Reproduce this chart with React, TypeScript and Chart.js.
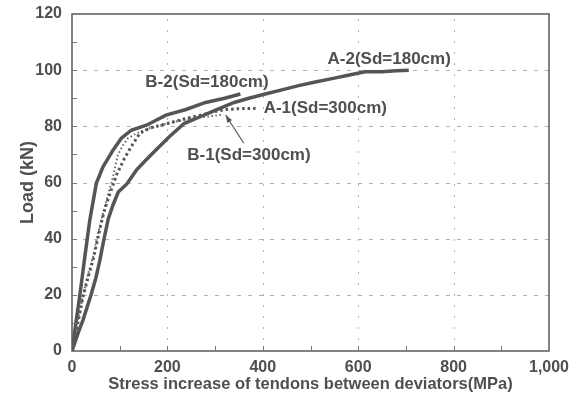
import React, { useEffect, useRef } from "react";
import { Chart, registerables } from "chart.js";

Chart.register(...registerables);

// Stress increase (MPa) / Load (kN)
const a2Stress = [0, 12, 23, 40, 50, 58, 66, 76, 86, 97, 115, 135, 152, 169, 204, 235, 270, 301, 340, 371, 405, 440, 475, 510, 545, 579, 614, 649, 680, 706];
const a2Load = [0, 6, 11, 20, 26, 32, 39, 47, 52, 56.6, 59.5, 64.4, 67.5, 70.4, 76.3, 81, 83.5, 85.8, 88.5, 90, 91.5, 93, 94.5, 95.8, 97, 98.2, 99.4, 99.4, 99.8, 100];

const b2Stress = [0, 9, 16, 26, 32, 37, 44, 51, 65, 86, 103, 124, 156, 197, 239, 280, 320, 353];
const b2Load = [0, 11, 19.3, 32.4, 40, 46.3, 53, 59.7, 65.6, 71.5, 75.7, 78.6, 80.4, 84, 86, 88.5, 90, 91.5];

const a1Stress = [0, 10, 23, 35, 44, 52, 61, 68, 76, 93, 110, 124, 142, 165, 200, 232, 270, 300, 322, 350, 385];
const a1Load = [0, 8, 19.3, 27, 32.4, 38.5, 45.4, 50, 54.3, 62.6, 68.6, 72.7, 77.5, 79.5, 81, 82.5, 84, 85.3, 86, 86.3, 86.4];

const b1Stress = [0, 10, 22, 33, 44, 55, 65, 76, 86, 96, 107, 117, 135, 162, 200, 231, 270, 300, 315];
const b1Load = [0, 9, 19, 27, 33.5, 42, 49, 56, 62, 69.8, 73.3, 75.7, 77.5, 79.3, 81, 82.2, 83.2, 83.8, 84.2];

const xTickValues = [0, 200, 400, 600, 800, 1000];
const yTickValues = [0, 20, 40, 60, 80, 100, 120];

const seriesLabels = ["A-2(Sd=180cm)", "B-2(Sd=180cm)", "A-1(Sd=300cm)", "B-1(Sd=300cm)"];
const labelStress = [665, 283, 531, 371];
const labelLoad = [104, 95.7, 86.5, 69.8];
const arrowFrom = [360, 74];
const arrowTo = [322, 84];

const zip = (xs: number[], ys: number[]) => xs.map((v, i) => ({ x: v, y: ys[i] }));

const FONT = '"Liberation Sans", Arial, Helvetica, sans-serif';
const TEXT = "#4f4f4f";
const LINE = "#555555";

const grid = {
  id: "gridDash",
  beforeDatasetsDraw(chart: any) {
    const { ctx, chartArea: a, scales } = chart;
    const x = scales.x;
    const y = scales.y;
    ctx.save();
    ctx.strokeStyle = "#b0b0b0";
    ctx.lineWidth = 1;
    ctx.setLineDash([4, 7]);
    ctx.beginPath();
    for (const v of yTickValues) {
      if (v === 0 || v === 120) continue;
      const py = Math.round(y.getPixelForValue(v)) + 0.5;
      ctx.moveTo(a.left, py);
      ctx.lineTo(a.right, py);
    }
    ctx.stroke();
    ctx.setLineDash([2, 9]);
    ctx.beginPath();
    for (const v of xTickValues) {
      if (v === 0 || v === 1000) continue;
      const px = Math.round(x.getPixelForValue(v)) + 0.5;
      ctx.moveTo(px, a.bottom);
      ctx.lineTo(px, a.top);
    }
    ctx.stroke();
    ctx.restore();
  },
};

const decor = {
  id: "decor",
  afterDatasetsDraw(chart: any) {
    const { ctx, chartArea: a, scales } = chart;
    const x = scales.x;
    const y = scales.y;
    ctx.save();
    // frame
    ctx.strokeStyle = "#5a5a5a";
    ctx.lineWidth = 1.5;
    ctx.strokeRect(a.left, a.top, a.right - a.left, a.bottom - a.top);
    // inward ticks
    ctx.lineWidth = 1;
    ctx.strokeStyle = "#777";
    ctx.beginPath();
    for (let v = 10; v < 120; v += 10) {
      const py = Math.round(y.getPixelForValue(v)) + 0.5;
      ctx.moveTo(a.left, py);
      ctx.lineTo(a.left + 5, py);
    }
    for (let v = 100; v < 1000; v += 100) {
      const px = Math.round(x.getPixelForValue(v)) + 0.5;
      ctx.moveTo(px, a.bottom);
      ctx.lineTo(px, a.bottom - 5);
    }
    ctx.stroke();
    // labels
    ctx.font = "bold 17px " + FONT;
    ctx.fillStyle = TEXT;
    ctx.textAlign = "center";
    ctx.textBaseline = "middle";
    seriesLabels.forEach((t, i) => {
      ctx.fillText(t, x.getPixelForValue(labelStress[i]), y.getPixelForValue(labelLoad[i]));
    });
    // arrow
    const x1 = x.getPixelForValue(arrowFrom[0]);
    const y1 = y.getPixelForValue(arrowFrom[1]);
    const x2 = x.getPixelForValue(arrowTo[0]);
    const y2 = y.getPixelForValue(arrowTo[1]);
    ctx.strokeStyle = "#666";
    ctx.lineWidth = 1.2;
    ctx.beginPath();
    ctx.moveTo(x1, y1);
    ctx.lineTo(x2, y2);
    ctx.stroke();
    const ang = Math.atan2(y2 - y1, x2 - x1);
    ctx.fillStyle = "#555";
    ctx.beginPath();
    ctx.moveTo(x2, y2);
    ctx.lineTo(x2 - 8 * Math.cos(ang - 0.35), y2 - 8 * Math.sin(ang - 0.35));
    ctx.lineTo(x2 - 8 * Math.cos(ang + 0.35), y2 - 8 * Math.sin(ang + 0.35));
    ctx.closePath();
    ctx.fill();
    ctx.restore();
  },
};

export default function App() {
  const ref = useRef<HTMLCanvasElement>(null);
  useEffect(() => {
    document.body.style.margin = "0";
    document.body.style.background = "#fff";
    Chart.defaults.font.family = FONT;
    const chart = new Chart(ref.current as HTMLCanvasElement, {
      type: "line",
      data: {
        datasets: [
          {
            label: seriesLabels[2],
            data: zip(a1Stress, a1Load),
            borderColor: LINE,
            borderWidth: 3,
            borderDash: [2.5, 3],
            pointRadius: 0,
            tension: 0,
          },
          {
            label: seriesLabels[3],
            data: zip(b1Stress, b1Load),
            borderColor: "#666",
            borderWidth: 2,
            borderDash: [1.5, 2.5],
            pointRadius: 0,
            tension: 0,
          },
          {
            label: seriesLabels[0],
            data: zip(a2Stress, a2Load),
            borderColor: LINE,
            borderWidth: 3.5,
            pointRadius: 0,
            tension: 0,
          },
          {
            label: seriesLabels[1],
            data: zip(b2Stress, b2Load),
            borderColor: LINE,
            borderWidth: 3.5,
            pointRadius: 0,
            tension: 0,
          },
        ],
      },
      options: {
        animation: false,
        responsive: false,
        maintainAspectRatio: false,
        layout: { padding: { left: 0, top: 14, right: 31, bottom: 0 } },
        plugins: { legend: { display: false }, tooltip: { enabled: false } },
        scales: {
          x: {
            type: "linear",
            min: 0,
            max: 1000,
            afterFit: (s: any) => {
              s.height = 45;
              s.paddingLeft = 0;
              s.paddingRight = 0;
            },
            afterBuildTicks: (s: any) => {
              s.ticks = xTickValues.map((v) => ({ value: v }));
            },
            ticks: {
              padding: 7,
              color: TEXT,
              font: { size: 16, weight: "bold" },
              maxRotation: 0,
              callback: (v: any) => Number(v).toLocaleString("en-US"),
            },
            grid: { display: false, drawTicks: false },
            border: { display: false },
            title: {
              display: true,
              text: "Stress increase of tendons between deviators(MPa)",
              color: TEXT,
              font: { size: 16.5, weight: "bold" },
              padding: { top: 0, bottom: 2 },
            },
          },
          y: {
            type: "linear",
            min: 0,
            max: 120,
            afterFit: (s: any) => {
              s.width = 72;
              s.paddingTop = 0;
              s.paddingBottom = 0;
            },
            afterBuildTicks: (s: any) => {
              s.ticks = yTickValues.map((v) => ({ value: v }));
            },
            ticks: {
              padding: 10,
              color: TEXT,
              font: { size: 16, weight: "bold" },
            },
            grid: { display: false, drawTicks: false },
            border: { display: false },
            title: {
              display: true,
              text: "Load (kN)",
              color: TEXT,
              font: { size: 18, weight: "bold" },
              padding: { top: 17, bottom: 0 },
            },
          },
        },
      },
      plugins: [grid, decor],
    });
    return () => chart.destroy();
  }, []);
  return (
    <div style={{ position: "relative", width: 580, height: 396 }}>
      <canvas ref={ref} width={580} height={396} style={{ display: "block", width: 580, height: 396 }} />
    </div>
  );
}
